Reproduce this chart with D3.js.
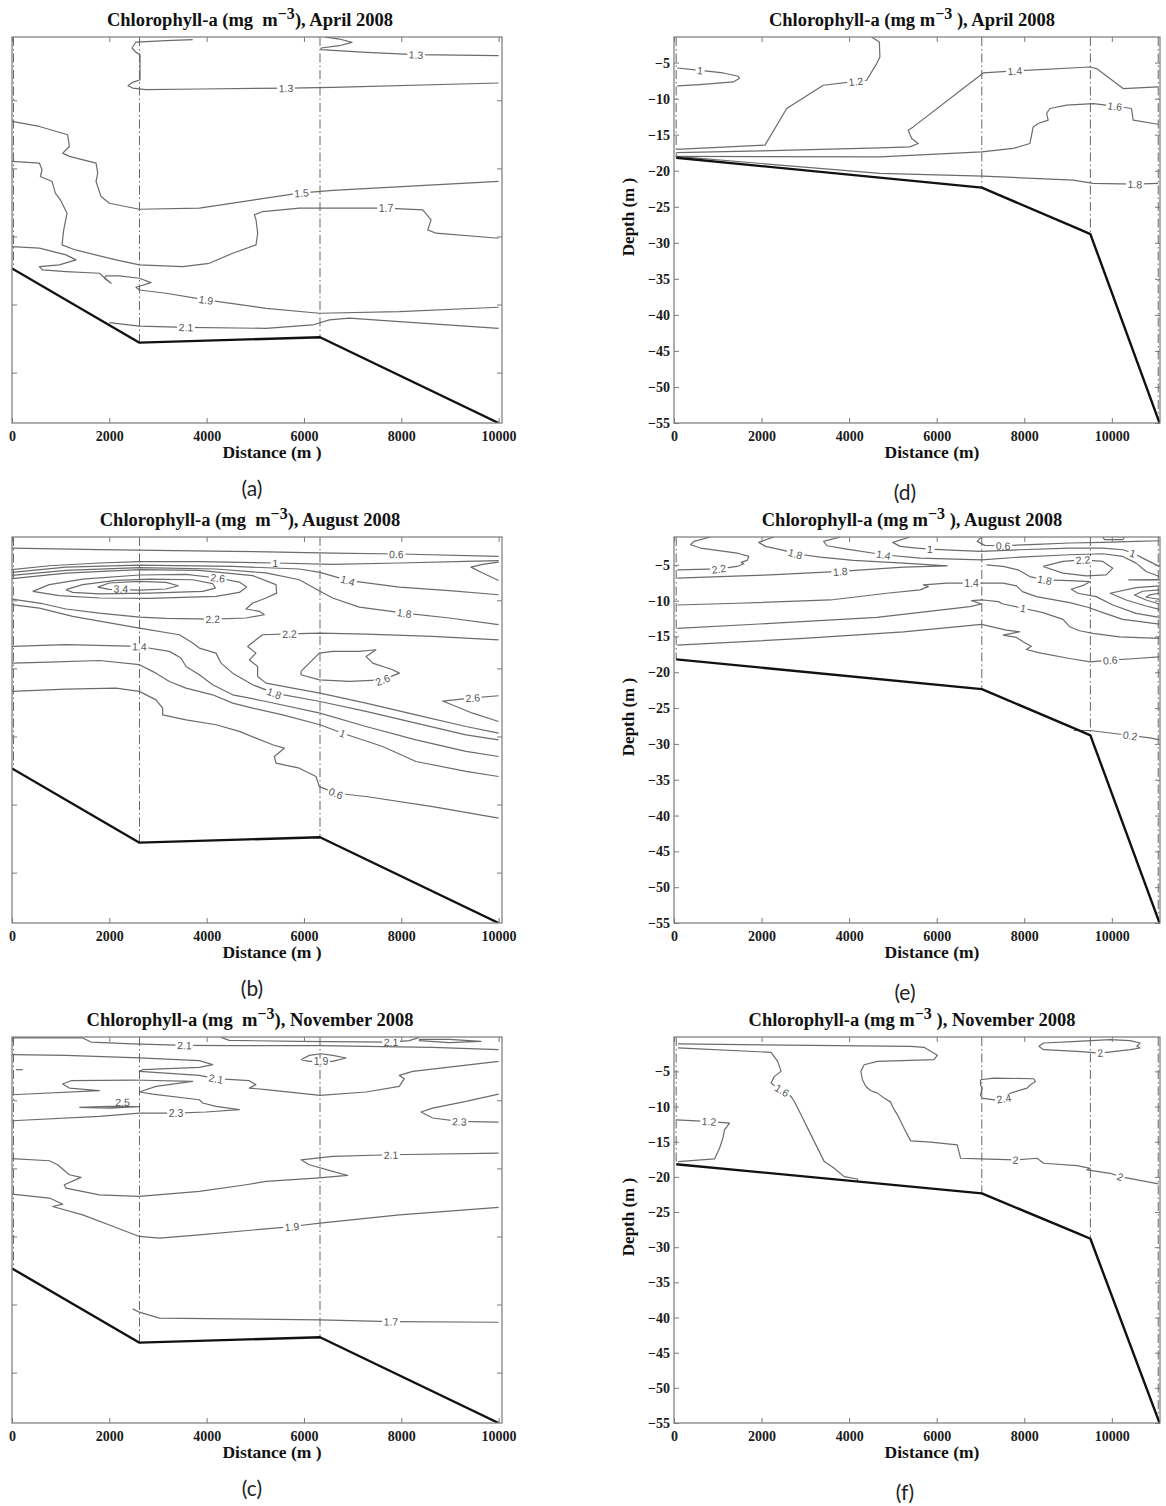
<!DOCTYPE html>
<html><head><meta charset="utf-8">
<script src="https://cdn.jsdelivr.net/npm/d3@7"></script>
<style>body{margin:0;background:#fff}</style></head>
<body>
<svg id="chart" width="1166" height="1506"></svg>
<script>
// ---------- axis ticks ----------
const distTicks = [0, 2000, 4000, 6000, 8000, 10000];
const leftDepthTicks = [-5, -10, -15, -20, -25];
const rightDepthTicks = [-5, -10, -15, -20, -25, -30, -35, -40, -45, -50, -55];
const leftDistDomain = [0, 10070];
const rightDistDomain = [0, 11100];
const leftDepthDomain = [-28.7, -0.35];
const depthDomainD = [-55, -1.45];
const depthDomainE = [-55, -1.12];
const depthDomainF = [-55, -0.11];

// ---------- bottom profiles and stations ----------
const bathyLeft = [[0, -17.35], [2620, -22.8], [6330, -22.4], [10000, -28.7]];
const bathyRight = [[50, -18.2], [7030, -22.35], [9250, -28.1], [9510, -28.8], [11090, -55]];
const stationsLeft = [30, 2620, 6330];
const stationsRight = [50, 7030, 9510, 11060];

// ---------- contours: [distance m, depth m] ----------
const contoursA = [
 {v:'1.3', pts:[[6420,-0.35],[6728,-0.5],[6988,-0.74],[6728,-0.99],[6351,-1.16],[6351,-1.28],[7276,-1.48],[8304,-1.65],[10000,-1.72]], lab:[[8304,-1.65]]},
 {v:'1.3', pts:[[3713,-0.55],[3165,-0.62],[2549,-0.72],[2466,-1.16],[2549,-1.48],[2631,-1.65],[2631,-3.49],[2480,-3.68],[2384,-3.93],[2480,-4.1],[2754,-4.22],[3850,-4.17],[5700,-4.1],[6591,-4.05],[10000,-3.73]], lab:[[5630,-4.1]]},
 {v:'1.5', pts:[[0,-6.55],[562,-6.92],[1144,-7.53],[1179,-8.39],[1042,-8.88],[1179,-9.12],[1727,-9.61],[1762,-10.35],[1727,-10.96],[1830,-12.07],[2001,-12.56],[2617,-13.0],[3850,-12.92],[5906,-11.82],[6591,-11.62],[10000,-10.96]], lab:[[5950,-11.8]]},
 {v:'1.7', pts:[[0,-9.49],[562,-9.61],[617,-10.1],[583,-10.6],[823,-10.96],[891,-11.82],[994,-12.31],[1131,-13.29],[1063,-14.52],[1028,-15.62],[1302,-15.99],[2138,-16.72],[2617,-17.09],[3508,-17.21],[4056,-16.97],[4536,-16.23],[5015,-15.62],[5049,-14.76],[5015,-13.78],[4981,-13.41],[5152,-13.17],[5906,-12.92],[7687,-12.92],[8441,-13.05],[8613,-13.78],[8544,-14.52],[8715,-14.76],[10000,-15.13]], lab:[[7687,-12.92]]},
 {v:'1.9', pts:[[0,-15.74],[562,-15.86],[1110,-16.35],[1315,-16.72],[973,-17.09],[562,-17.21],[630,-17.46],[1110,-17.58],[1795,-17.7],[2035,-18.44],[1898,-18.07],[1932,-17.9],[2206,-17.9],[2617,-18.07],[2857,-18.39],[2549,-18.73],[2617,-18.93],[3165,-19.17],[3987,-19.66],[5220,-20.28],[6317,-20.64],[7960,-20.52],[10000,-20.2]], lab:[[3987,-19.66]]},
 {v:'2.1', pts:[[2001,-21.33],[2617,-21.58],[3576,-21.67],[5220,-21.75],[6180,-21.5],[6522,-21.13],[6933,-21.0],[7960,-21.26],[10000,-21.75]], lab:[[3576,-21.67]]}
];

const contoursB = [
 {v:'0.6', pts:[[0,-1.16],[1795,-1.28],[4535,-1.4],[6590,-1.53],[7960,-1.6],[10000,-1.77]], lab:[[7900,-1.6]]},
 {v:'', pts:[[10000,-2.19],[9672,-2.36],[9432,-2.56],[9672,-2.99],[10000,-3.54]], lab:[]},
 {v:'1', pts:[[0,-2.75],[767,-2.46],[1795,-2.26],[2617,-2.16],[3850,-2.16],[5412,-2.26],[6590,-2.36],[7960,-2.26],[9330,-2.14],[10000,-2.09]], lab:[[5410,-2.26]]},
 {v:'1.4', pts:[[0,-2.95],[1110,-2.56],[2617,-2.41],[4535,-2.51],[5905,-2.7],[6330,-2.95],[6900,-3.54],[7960,-4.03],[8990,-4.29],[10000,-4.59]], lab:[[6900,-3.54]]},
 {v:'1.8', pts:[[0,-3.17],[1110,-2.8],[2617,-2.6],[4192,-2.7],[5220,-2.99],[5905,-3.49],[6330,-4.34],[6590,-4.83],[7138,-5.5],[8062,-5.94],[8990,-6.3],[10000,-6.79]], lab:[[8062,-5.94]]},
 {v:'2.2', pts:[[0,-3.41],[1110,-3.0],[2617,-2.75],[3850,-2.8],[4946,-3.19],[5425,-3.85],[5439,-4.47],[5220,-4.83],[4946,-5.2],[4809,-5.64],[5083,-5.81],[5185,-6.06],[4809,-6.3],[4124,-6.38],[3165,-6.33],[2617,-6.23],[1795,-5.94],[1110,-5.64],[630,-5.25],[0,-4.91]], lab:[[4124,-6.38]]},
 {v:'2.6', pts:[[425,-4.34],[767,-3.85],[1452,-3.44],[2617,-3.14],[3576,-3.09],[4226,-3.36],[4672,-3.66],[4822,-4.03],[4672,-4.42],[4192,-4.71],[2822,-4.86],[1795,-4.83],[973,-4.66],[425,-4.34]], lab:[[4226,-3.36]]},
 {v:'3', pts:[[1110,-4.22],[1452,-3.85],[2137,-3.54],[2822,-3.44],[3713,-3.49],[4124,-3.78],[4179,-4.1],[3918,-4.34],[2822,-4.47],[1795,-4.52],[1247,-4.42],[1110,-4.22]], lab:[]},
 {v:'3.4', pts:[[1760,-4.03],[2000,-3.73],[2617,-3.61],[3165,-3.68],[3418,-3.93],[3165,-4.17],[2617,-4.25],[2000,-4.2],[1760,-4.03]], lab:[[2240,-4.15]]},
 {v:'2.2', pts:[[10000,-7.9],[8645,-7.65],[7275,-7.48],[6330,-7.41],[5700,-7.46],[5151,-7.53],[5014,-7.9],[4843,-8.39],[5014,-8.88],[4877,-9.37],[5048,-9.86],[5048,-10.59],[5220,-11.08],[5768,-11.45],[6330,-11.82],[7275,-12.55],[8302,-13.41],[9330,-14.27],[10000,-14.76]], lab:[[5700,-7.46]]},
 {v:'2.6', pts:[[5939,-10.22],[6316,-8.88],[6590,-8.75],[7138,-8.75],[7480,-8.63],[7275,-9.12],[7412,-9.61],[7823,-10.1],[7960,-10.35],[7617,-10.84],[6932,-10.96],[6316,-10.84],[5939,-10.47],[5939,-10.22]], lab:[[7617,-10.84]]},
 {v:'2.6', pts:[[10000,-12.01],[9467,-12.16],[8850,-12.4],[9467,-13.29],[10000,-13.9]], lab:[[9467,-12.16]]},
 {v:'1.8', pts:[[0,-5.32],[562,-5.57],[1247,-6.18],[2617,-7.04],[3439,-7.53],[3713,-8.14],[3850,-8.51],[4192,-8.88],[4295,-9.61],[4535,-10.35],[4946,-11.2],[5391,-11.82],[6330,-12.43],[7275,-13.16],[8302,-14.02],[9330,-14.88],[10000,-15.25]], lab:[[5391,-11.82]]},
 {v:'1.4', pts:[[0,-8.39],[1110,-8.26],[2617,-8.39],[3234,-8.75],[3473,-9.24],[3576,-9.86],[3850,-10.47],[4124,-11.2],[4535,-11.94],[5220,-12.43],[6330,-13.29],[7275,-14.27],[8302,-15.25],[9330,-16.1],[10000,-16.47]], lab:[[2617,-8.39]]},
 {v:'1', pts:[[0,-9.61],[767,-9.54],[1795,-9.42],[2617,-9.73],[2959,-10.35],[3234,-10.96],[3576,-11.45],[4124,-11.94],[4535,-12.55],[4946,-12.92],[5562,-13.41],[6330,-14.14],[6795,-14.76],[7617,-15.74],[8302,-16.84],[9330,-17.57],[10000,-17.94]], lab:[[6795,-14.76]]},
 {v:'0.6', pts:[[0,-11.69],[1110,-11.52],[2137,-11.45],[2617,-11.69],[2959,-12.31],[3096,-12.92],[3096,-13.41],[3576,-13.78],[4192,-14.14],[4672,-14.63],[5014,-15.12],[5357,-15.61],[5596,-15.86],[5391,-16.47],[5425,-16.96],[5905,-17.33],[6247,-17.94],[6316,-18.68],[6658,-19.17],[7275,-19.41],[8645,-20.15],[10000,-21.0]], lab:[[6658,-19.17]]}
];

const contoursC = [
 {v:'2.1', pts:[[0,-0.42],[1452,-0.42],[1623,-0.72],[2480,-0.86],[3541,-0.96],[4535,-0.99],[6330,-0.99],[7275,-1.04],[8645,-1.11],[10000,-1.28]], lab:[[3541,-0.96]]},
 {v:'2.1', pts:[[4295,-0.38],[4466,-0.6],[5905,-0.67],[7788,-0.72],[8165,-0.62],[8371,-0.38]], lab:[[7788,-0.72]]},
 {v:'', pts:[[8371,-0.52],[8987,-0.52],[9638,-0.67],[8987,-0.77],[8371,-0.62],[8371,-0.52]], lab:[]},
 {v:'1.9', pts:[[5939,-2.02],[6110,-1.7],[6350,-1.58],[6590,-1.7],[6864,-1.89],[6590,-2.14],[6110,-2.14],[5939,-2.02]], lab:[[6350,-2.14]]},
 {v:'2.1', pts:[[0,-1.65],[1110,-1.7],[2617,-1.89],[3850,-2.09],[4124,-2.38],[3850,-2.58],[2685,-2.75],[2617,-2.87],[3850,-3.17],[4192,-3.41],[4877,-3.56],[5014,-3.85],[4877,-4.1],[5220,-4.22],[6330,-4.64],[7275,-4.39],[7960,-3.98],[8062,-3.41],[7960,-3.17],[8234,-2.87],[10000,-2.14]], lab:[[4192,-3.41]]},
 {v:'', pts:[[80,-2.75],[220,-2.75]], lab:[]},
 {v:'2.3', pts:[[0,-6.5],[1795,-6.18],[2617,-5.94],[3370,-5.94],[3987,-5.86],[4672,-5.69],[4192,-5.45],[3918,-5.2],[3850,-4.96],[2891,-4.54],[2617,-4.39],[2959,-3.98],[3713,-3.61],[2480,-3.51],[1212,-3.56],[1041,-3.8],[1178,-4.1],[1795,-4.29],[0,-4.59]], lab:[[3370,-5.94]]},
 {v:'2.5', pts:[[1384,-5.52],[2000,-5.45],[2617,-5.47],[2000,-5.57],[1384,-5.52]], lab:[[2274,-5.12]]},
 {v:'2.3', pts:[[10000,-6.6],[9193,-6.55],[8645,-6.3],[8405,-5.86],[8645,-5.57],[9330,-5.08],[10000,-4.54]], lab:[[9193,-6.55]]},
 {v:'2.1', pts:[[10000,-8.88],[7788,-9.0],[6590,-9.12],[5939,-9.37],[6110,-9.73],[6590,-10.22],[6898,-10.52],[6247,-10.71],[5220,-10.96],[4809,-11.2],[3850,-11.69],[2617,-12.06],[1795,-11.94],[1110,-11.45],[1075,-11.2],[1418,-10.66],[1178,-10.47],[938,-9.73],[767,-9.44],[0,-9.29]], lab:[[7788,-9.0]]},
 {v:'1.9', pts:[[0,-11.89],[767,-12.18],[1041,-12.62],[836,-12.8],[1452,-13.41],[2137,-14.34],[2617,-15.0],[3028,-15.12],[3850,-14.88],[5754,-14.27],[6330,-14.02],[7960,-13.41],[10000,-12.87]], lab:[[5754,-14.27]]},
 {v:'1.7', pts:[[2480,-20.32],[2617,-20.56],[3028,-21.0],[4535,-21.05],[6330,-21.13],[7788,-21.25],[10000,-21.3]], lab:[[7788,-21.25]]}
];

const contoursD = [
 {v:'1', pts:[[75,-5.75],[594,-6.07],[1126,-6.44],[1468,-6.9],[1491,-7.22],[1354,-7.68],[594,-8.05],[75,-8.24]], lab:[[594,-6.07]]},
 {v:'1.2', pts:[[4513,-1.45],[4690,-2.15],[4703,-4.22],[4628,-5.14],[4400,-7.45],[4155,-7.6],[3409,-8.14],[2573,-11.37],[2078,-16.45],[61,-17.05]], lab:[[4155,-7.6]]},
 {v:'1.4', pts:[[11058,-8.38],[10258,-8.6],[9650,-5.83],[9498,-5.61],[7785,-6.16],[7062,-6.44],[5464,-13.92],[5350,-14.38],[5427,-15.53],[5578,-16.22],[5388,-16.69],[4703,-16.83],[2000,-17.25],[60,-17.5]], lab:[[7785,-6.16]]},
 {v:'1.6', pts:[[11058,-13.55],[10487,-12.99],[10450,-11.37],[10297,-11.23],[10069,-11.05],[9573,-10.68],[8965,-10.91],[8584,-11.37],[8509,-12.06],[8546,-12.99],[8318,-13.45],[8203,-13.92],[8167,-15.07],[8128,-16.22],[7747,-16.91],[7025,-17.38],[4703,-18.07],[2000,-18.05],[60,-18.0]], lab:[[10069,-11.05]]},
 {v:'1.8', pts:[[60,-18.0],[2000,-19.0],[4703,-20.37],[7062,-20.75],[9116,-21.3],[9573,-21.76],[10525,-21.86],[11058,-21.76]], lab:[[10525,-21.86]]}
];

const contoursE = [
 {v:'2.2', pts:[[835,-1.12],[456,-1.73],[380,-2.2],[607,-2.66],[1443,-3.36],[1708,-3.83],[1670,-4.39],[1534,-4.67],[1595,-4.86],[1443,-5.23],[1025,-5.56],[76,-5.7]], lab:[[1025,-5.56]]},
 {v:'1.8', pts:[[2278,-1.12],[1936,-1.87],[2088,-2.43],[2506,-2.99],[2771,-3.46],[3341,-3.93],[4100,-4.39],[5239,-4.77],[6241,-5.14],[5239,-5.33],[3797,-5.93],[2202,-6.4],[1063,-6.64],[76,-6.87]], lab:[[2771,-3.46],[3797,-5.93]]},
 {v:'1.4', pts:[[3797,-1.12],[3417,-1.73],[3493,-2.34],[3948,-2.8],[4784,-3.6],[5619,-4.07],[7023,-4.3],[7897,-3.93],[9036,-3.6],[9795,-3.46],[10251,-3.83],[10554,-4.77],[10782,-5.93],[11086,-6.64]], lab:[[4784,-3.6]]},
 {v:'1', pts:[[5391,-1.12],[4996,-1.87],[5163,-2.43],[5543,-2.66],[5847,-2.8],[6454,-2.99],[7023,-3.13],[7897,-2.9],[9036,-2.66],[9795,-2.66],[10251,-2.9],[10479,-3.36],[10706,-4.07],[10934,-4.77],[11086,-5.23]], lab:[[5847,-2.8],[10479,-3.36]]},
 {v:'0.6', pts:[[7023,-1.12],[6925,-1.73],[7099,-2.29],[7517,-2.34],[8276,-2.15],[9036,-1.96],[9795,-1.87],[10554,-1.73],[11086,-1.64]], lab:[[7517,-2.34]]},
 {v:'', pts:[[9795,-1.12],[9833,-1.5],[10251,-1.5],[10289,-1.12]], lab:[]},
 {v:'2.2', pts:[[8428,-5.23],[8884,-4.53],[9339,-4.3],[9795,-4.53],[10023,-5.47],[9871,-6.4],[9415,-6.54],[8884,-6.17],[8428,-5.23]], lab:[[9339,-4.3]]},
 {v:'1.8', pts:[[7137,-5.0],[7517,-5.23],[7859,-5.7],[8125,-6.64],[8466,-7.1],[9036,-7.2],[9506,-7.34],[9377,-7.8],[9074,-8.41],[9226,-8.97],[9643,-9.44],[10023,-10.61],[10554,-11.78],[11086,-12.34]], lab:[[8466,-7.1]]},
 {v:'', pts:[[11086,-7.05],[10388,-7.1],[11086,-7.15]], lab:[]},
 {v:'', pts:[[11086,-7.94],[10554,-8.18],[9962,-8.97],[10327,-9.91],[10782,-10.75],[11086,-11.22]], lab:[]},
 {v:'', pts:[[11086,-8.5],[10706,-8.69],[10517,-9.21],[10782,-9.91],[11086,-10.47]], lab:[]},
 {v:'', pts:[[11086,-8.97],[10858,-9.21],[10782,-9.53],[11086,-9.81]], lab:[]},
 {v:'1.4', pts:[[76,-10.61],[1443,-10.37],[3569,-9.91],[4860,-8.97],[5619,-8.5],[5809,-8.04],[5695,-7.8],[6226,-7.57],[6796,-7.57],[7517,-7.57],[7821,-7.94],[7958,-8.74],[8276,-9.44],[9036,-10.28],[9453,-10.93],[9795,-11.68],[10251,-12.62],[11086,-13.27]], lab:[[6796,-7.57]]},
 {v:'1', pts:[[76,-13.88],[2202,-13.18],[4632,-12.34],[6758,-10.84],[7023,-10.47],[6796,-10.0],[7061,-9.91],[7403,-10.14],[7517,-10.47],[7973,-11.07],[8428,-11.68],[8884,-12.62],[9036,-13.64],[9264,-14.21],[9567,-14.58],[10175,-15.05],[11086,-15.28]], lab:[[7973,-11.07]]},
 {v:'0.6', pts:[[76,-16.22],[2961,-15.28],[5239,-14.35],[7023,-13.32],[7593,-14.11],[7897,-14.35],[7517,-14.81],[7821,-15.14],[8011,-15.89],[8163,-16.36],[8049,-16.82],[8352,-17.29],[9036,-18.08],[9506,-18.55],[9962,-18.32],[10554,-18.08],[11086,-17.85]], lab:[[9962,-18.32]]},
 {v:'0.2', pts:[[9127,-28.13],[9507,-28.13],[10418,-28.83],[10873,-29.16],[11086,-29.44]], lab:[[10418,-28.83]]}
];

const contoursF = [
 {v:'2', pts:[[91,-1.1],[5406,-1.44],[5710,-1.58],[5862,-2.15],[6014,-2.72],[5938,-3.34],[4647,-3.57],[4343,-4.05],[4267,-5.0],[4305,-6.19],[4381,-7.14],[4495,-7.76],[4647,-8.09],[4799,-8.8],[4951,-9.37],[4989,-9.99],[5103,-11.18],[5254,-13.08],[5406,-14.88],[5862,-15.07],[6469,-15.45],[6507,-16.4],[6545,-17.35],[7001,-17.45],[7798,-17.59],[8292,-17.35],[8443,-18.06],[9203,-18.4],[9507,-18.78],[9431,-19.01],[9962,-19.49],[10190,-19.96],[11063,-21.0]], lab:[[7798,-17.59],[10190,-19.96]]},
 {v:'1.6', pts:[[91,-1.67],[2217,-2.29],[2369,-3.57],[2445,-5.0],[2293,-5.71],[2217,-6.66],[2369,-7.38],[2521,-7.95],[2673,-8.56],[2749,-9.28],[2901,-11.18],[3128,-14.03],[3432,-17.83],[3660,-18.78],[3888,-19.96],[4191,-20.3],[4191,-20.68]], lab:[[2470,-7.7]]},
 {v:'1.2', pts:[[53,-11.89],[850,-12.13],[1268,-12.36],[1154,-13.31],[1116,-14.5],[1040,-15.93],[926,-17.45],[91,-17.83]], lab:[[800,-12.1]]},
 {v:'2.4', pts:[[7001,-6.19],[7305,-5.95],[8216,-6.05],[8254,-6.43],[8140,-6.9],[8064,-7.38],[7684,-8.09],[7532,-8.8],[7305,-9.04],[7039,-8.8],[7001,-8.33],[7039,-7.38],[7001,-6.9],[7001,-6.19]], lab:[[7532,-8.85]]},
 {v:'2', pts:[[8330,-1.44],[8443,-0.96],[9203,-0.72],[9962,-0.49],[10418,-0.63],[10646,-0.96],[10570,-1.44],[10646,-1.67],[10418,-1.91],[9734,-2.39],[9203,-2.15],[8443,-1.91],[8330,-1.44]], lab:[[9734,-2.35]]}
];

// ---------- panel set-up ----------
const panels = [
 {id:'a', col:0, row:0, month:'April 2008', contours:contoursA, yDom:leftDepthDomain},
 {id:'b', col:0, row:1, month:'August 2008', contours:contoursB, yDom:leftDepthDomain},
 {id:'c', col:0, row:2, month:'November 2008', contours:contoursC, yDom:leftDepthDomain},
 {id:'d', col:1, row:0, month:'April 2008', contours:contoursD, yDom:depthDomainD},
 {id:'e', col:1, row:1, month:'August 2008', contours:contoursE, yDom:depthDomainE},
 {id:'f', col:1, row:2, month:'November 2008', contours:contoursF, yDom:depthDomainF}
];

const SERIF = '"Liberation Serif","Times New Roman",serif';
const SANS = '"Liberation Sans",Arial,sans-serif';
const svg = d3.select('#chart');
svg.append('rect').attr('width',1166).attr('height',1506).attr('fill','#fff');
const defs = svg.append('defs');

panels.forEach(p => {
  const left = p.col === 0;
  const off = p.row * 500;
  const x0 = left ? 12 : 674, x1 = left ? 502 : 1160;
  const y0 = 37 + off, y1 = 423 + off;
  const x = d3.scaleLinear().domain(left ? leftDistDomain : rightDistDomain).range([x0, x1]);
  const y = d3.scaleLinear().domain(p.yDom).range([y1, y0]);
  const bathy = left ? bathyLeft : bathyRight;
  const stations = left ? stationsLeft : stationsRight;
  const bathyAt = d3.scaleLinear().domain(bathy.map(d => d[0])).range(bathy.map(d => d[1])).clamp(true);
  const line = d3.line().x(d => x(d[0])).y(d => y(d[1]));
  const g = svg.append('g');

  defs.append('clipPath').attr('id', 'clip' + p.id)
    .append('rect').attr('x', x0).attr('y', y0).attr('width', x1 - x0).attr('height', y1 - y0);
  const plot = g.append('g').attr('clip-path', `url(#clip${p.id})`);

  // contours
  plot.selectAll('path.ct').data(p.contours).join('path')
    .attr('class', 'ct').attr('d', d => line(d.pts))
    .attr('fill', 'none').attr('stroke', '#6b6b6b').attr('stroke-width', 1.2)
    .attr('stroke-linejoin', 'round');

  // station lines
  plot.selectAll('line.st').data(stations).join('line')
    .attr('class', 'st')
    .attr('x1', d => x(d)).attr('x2', d => x(d))
    .attr('y1', y0).attr('y2', d => y(bathyAt(d)))
    .attr('stroke', '#666').attr('stroke-width', 1)
    .attr('stroke-dasharray', '9,3,1.5,3');

  // bottom
  plot.append('path').attr('d', line(bathy)).attr('fill', 'none')
    .attr('stroke', '#111').attr('stroke-width', 2.4).attr('stroke-linejoin', 'round');

  // contour labels (inline, line broken behind the label)
  const labs = [];
  p.contours.forEach(c => c.lab.forEach(l => labs.push({v: c.v, pt: l, pts: c.pts})));
  const labG = g.append('g');
  labs.forEach(L => {
    const px = x(L.pt[0]), py = y(L.pt[1]);
    let best = Infinity, ang = 0;
    for (let i = 0; i < L.pts.length - 1; i++) {
      const ax = x(L.pts[i][0]), ay = y(L.pts[i][1]);
      const bx = x(L.pts[i+1][0]), by = y(L.pts[i+1][1]);
      const dx = bx - ax, dy = by - ay, len2 = dx*dx + dy*dy || 1;
      let t = ((px - ax) * dx + (py - ay) * dy) / len2; t = Math.max(0, Math.min(1, t));
      const qx = ax + t*dx, qy = ay + t*dy, dist = (qx-px)*(qx-px) + (qy-py)*(qy-py);
      if (dist < best) { best = dist; ang = Math.atan2(dy, dx) * 180 / Math.PI; }
    }
    if (ang > 90) ang -= 180; if (ang < -90) ang += 180;
    const lg = labG.append('g').attr('transform', `translate(${px},${py}) rotate(${ang.toFixed(1)})`);
    const bg = lg.append('rect').attr('fill', '#fff');
    const tx = lg.append('text').attr('x', 0).attr('y', 0)
      .attr('text-anchor', 'middle').attr('dominant-baseline', 'central')
      .attr('font-family', SANS).attr('font-size', 10.5).attr('fill', '#555')
      .text(L.v);
    const bb = tx.node().getBBox();
    bg.attr('x', bb.x - 1.5).attr('y', -3).attr('width', bb.width + 3).attr('height', 6);
  });

  // box
  g.append('rect').attr('x', x0).attr('y', y0).attr('width', x1 - x0).attr('height', y1 - y0)
    .attr('fill', 'none').attr('stroke', '#7a7a7a').attr('stroke-width', 1.2);

  // axes (inward ticks, MATLAB style)
  const styleAxis = sel => {
    sel.select('.domain').remove();
    sel.selectAll('.tick line').attr('stroke', '#7a7a7a');
    sel.selectAll('.tick text').attr('font-family', SERIF).attr('font-weight', 'bold')
      .attr('font-size', 14).attr('fill', '#1a1a1a');
  };
  g.append('g').attr('transform', `translate(0,${y1})`)
    .call(d3.axisBottom(x).tickValues(distTicks).tickSizeInner(-5).tickSizeOuter(0).tickPadding(8).tickFormat(d3.format('d')))
    .call(styleAxis);
  g.append('g').attr('transform', `translate(0,${y0})`)
    .call(d3.axisTop(x).tickValues(distTicks).tickSizeInner(-5).tickSizeOuter(0).tickFormat(''))
    .call(styleAxis);
  const yTicks = left ? leftDepthTicks : rightDepthTicks;
  g.append('g').attr('transform', `translate(${x0},0)`)
    .call(d3.axisLeft(y).tickValues(yTicks).tickSizeInner(-5).tickSizeOuter(0).tickPadding(4)
      .tickFormat(left ? '' : d3.format('d')))
    .call(styleAxis);
  g.append('g').attr('transform', `translate(${x1},0)`)
    .call(d3.axisRight(y).tickValues(yTicks).tickSizeInner(-5).tickSizeOuter(0).tickFormat(''))
    .call(styleAxis);

  // title
  const tcx = left ? 250 : 912;
  const t = g.append('text').attr('x', tcx).attr('y', 26 + off).attr('text-anchor', 'middle')
    .attr('font-family', SERIF).attr('font-weight', 'bold').attr('font-size', 18.5)
    .attr('fill', '#111').style('white-space', 'pre');
  t.append('tspan').text(left ? 'Chlorophyll-a (mg  m' : 'Chlorophyll-a (mg m');
  t.append('tspan').attr('dy', -7).attr('font-size', 16).text('\u22123');
  t.append('tspan').attr('dy', 7).text((left ? '), ' : ' ), ') + p.month);

  // axis labels
  g.append('text').attr('x', (x0 + x1) / 2 + 15).attr('y', 458 + off).attr('text-anchor', 'middle')
    .attr('font-family', SERIF).attr('font-weight', 'bold').attr('font-size', 17.5).attr('fill', '#111')
    .text(left ? 'Distance (m )' : 'Distance (m)');
  if (!left) {
    g.append('text').attr('transform', `translate(634,${217 + off}) rotate(-90)`)
      .attr('text-anchor', 'middle')
      .attr('font-family', SERIF).attr('font-weight', 'bold').attr('font-size', 17).attr('fill', '#111')
      .text('Depth (m )');
  }
  // panel letter
  g.append('text').attr('x', left ? 252 : 905).attr('y', (left ? 487 : 491) + off)
    .attr('text-anchor', 'middle').attr('dominant-baseline', 'central')
    .attr('font-family', 'Lato, "Open Sans", sans-serif').attr('font-size', 21).attr('fill', '#222')
    .text('(' + p.id + ')');
});
</script>
</body></html>
